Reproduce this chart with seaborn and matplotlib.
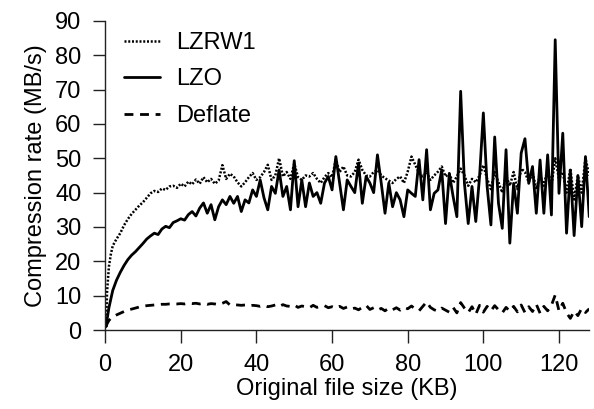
import pandas as pd
import matplotlib
matplotlib.use('Agg')
import matplotlib.pyplot as plt
import seaborn as sns

# File sizes in KB (first few points are sub-KB)
sizes = [0.25, 0.5, 1, 1.5] + list(range(2, 129))

# Compression rates in MB/s
lzrw1 = [1.0, 11.0, 18.5, 22.0,
         24.5, 26.5, 28.2, 30.5, 32.3, 33.8, 35.0, 36.2, 37.2, 38.5,
         39.8, 40.5, 40.2, 41.2, 40.8, 41.8, 42.0, 41.4, 42.6, 41.8,
         43.2, 42.4, 43.8, 42.6, 44.5, 43.0, 44.0, 42.6, 43.5, 48.0,
         44.0, 45.5, 44.7, 43.0, 41.8, 43.0, 44.5, 45.7, 43.7, 44.5,
         46.0, 48.1, 43.7, 45.0, 50.0, 44.7, 46.0, 44.0, 48.5, 44.5,
         43.7, 45.0, 44.7, 45.7, 44.0, 42.8, 44.5, 45.7, 44.5, 49.6,
         46.0, 47.6, 45.0, 44.7, 46.0, 49.6, 46.6, 45.0, 44.7, 46.0,
         46.6, 45.0, 44.2, 43.5, 42.8, 44.0, 44.7, 42.8, 46.1, 50.5,
         48.1, 45.7, 44.7, 46.0, 43.7, 45.0, 46.1, 47.6, 44.7, 45.5,
         42.8, 44.7, 47.0, 45.0, 42.0, 44.0, 43.0, 45.0, 48.0, 44.0,
         41.0, 46.0, 43.0, 40.0, 45.0, 42.0, 46.0, 41.0, 47.0, 46.0,
         43.0, 46.0, 41.0, 45.0, 42.0, 47.0, 42.0, 50.0, 44.0, 46.0,
         40.0, 47.0, 38.0, 45.0, 40.0, 50.0, 45.0]

lzo = [1.0, 3.0, 6.5, 9.0,
       11.5, 14.5, 16.8, 18.8, 20.5, 21.8, 22.8, 24.0, 25.2, 26.5,
       27.4, 28.2, 27.8, 29.4, 30.2, 29.8, 31.3, 31.8, 32.4, 32.0,
       33.6, 34.5, 33.2, 35.5, 37.0, 34.0, 36.5, 32.1, 35.9, 37.9,
       36.5, 38.9, 36.9, 38.9, 34.5, 37.9, 37.0, 40.8, 38.9, 43.7,
       38.5, 35.0, 41.8, 39.8, 46.6, 38.9, 41.8, 35.0, 49.3, 35.9,
       43.7, 35.9, 42.8, 38.9, 40.0, 36.9, 42.8, 44.7, 40.8, 50.5,
       42.8, 35.0, 43.7, 41.8, 40.0, 48.6, 36.9, 44.7, 42.8, 40.0,
       51.0, 42.8, 34.0, 42.8, 35.9, 40.0, 37.9, 33.0, 40.8, 39.8,
       38.9, 49.6, 37.9, 52.5, 35.0, 39.8, 40.8, 46.6, 31.0, 45.6,
       38.9, 33.0, 69.5, 42.7, 31.0, 41.8, 31.6, 44.7, 63.2, 41.8,
       30.6, 56.2, 36.9, 29.6, 52.5, 25.3, 42.7, 34.0, 51.5, 55.7,
       42.7, 47.6, 34.0, 49.5, 34.0, 51.0, 33.5, 84.5, 39.8, 57.3,
       28.2, 46.6, 27.5, 45.0, 30.1, 50.5, 33.0]

deflate = [1.0, 1.8, 2.8, 3.4,
           3.8, 4.4, 4.9, 5.4, 5.8, 6.1, 6.4, 6.7, 6.9, 7.1,
           7.2, 7.3, 7.4, 7.5, 7.5, 7.6, 7.6, 7.6, 7.7, 7.6,
           7.8, 7.7, 7.8, 7.6, 7.8, 7.5, 7.7, 7.6, 7.4, 7.8,
           8.3, 7.3, 7.4, 7.3, 7.2, 7.3, 7.0, 7.2, 7.1, 6.9,
           7.2, 6.8, 7.0, 7.3, 6.8, 7.4, 7.0, 6.9, 7.3, 6.6,
           7.0, 6.8, 6.5, 7.2, 6.6, 6.9, 7.1, 6.5, 6.8, 6.4,
           6.9, 6.3, 6.7, 6.1, 6.4, 5.9, 6.6, 7.2, 6.0, 6.5,
           5.8, 6.3, 5.6, 6.4, 5.9, 6.5, 5.8, 6.6, 6.2, 7.0,
           6.1, 5.6, 6.9, 8.2, 6.6, 5.9, 5.5, 6.4, 5.8, 5.2,
           6.6, 5.0, 8.0, 6.4, 5.1, 6.8, 4.6, 7.2, 5.2, 6.9,
           5.6, 7.1, 5.9, 5.0, 6.6, 5.5, 6.9, 5.3, 7.3, 5.1,
           6.8, 5.4, 7.5, 4.9, 6.9, 5.6, 7.2, 10.2, 5.6, 7.8,
           5.0, 3.4, 5.5, 4.2, 6.3, 5.1, 6.2]

df = pd.DataFrame({'size': sizes, 'LZRW1': lzrw1, 'LZO': lzo, 'Deflate': deflate})

sns.set_style('ticks')
plt.rcParams['font.family'] = ['Liberation Sans', 'DejaVu Sans']
plt.rcParams['font.size'] = 17
plt.rcParams['text.color'] = 'black'
plt.rcParams['axes.labelcolor'] = 'black'

fig = plt.figure(figsize=(5.94, 4.09), dpi=100)
ax = fig.add_axes([0.177, 0.193, 0.815, 0.756])

sns.lineplot(data=df, x='size', y='LZRW1', ax=ax, color='black', lw=1.8,
             linestyle=(0, (0.8, 0.7)), label='LZRW1')
sns.lineplot(data=df, x='size', y='LZO', ax=ax, color='black', lw=2.0,
             label='LZO')
sns.lineplot(data=df, x='size', y='Deflate', ax=ax, color='black', lw=2.0,
             linestyle=(0, (3.2, 2.4)), label='Deflate')

ax.set_xlim(0, 128)
ax.set_ylim(0, 90)
ax.set_xticks([0, 20, 40, 60, 80, 100, 120])
ax.set_yticks(range(0, 91, 10))
ax.set_xlabel('Original file size (KB)', fontsize=17, labelpad=2)
ax.set_ylabel('Compression rate (MB/s)', fontsize=17, labelpad=6)
ax.tick_params(direction='out', length=9, width=1, pad=8, labelsize=17,
               color='#222222', labelcolor='black')
sns.despine(ax=ax)
for s in ['left', 'bottom']:
    ax.spines[s].set_linewidth(1)
    ax.spines[s].set_color('#222222')

ax.legend(loc='upper left', bbox_to_anchor=(0.02, 0.995), frameon=False,
          fontsize=17, handlelength=1.5, handletextpad=0.7, labelspacing=0.62,
          borderaxespad=0)

fig.savefig('out.png', dpi=100)
